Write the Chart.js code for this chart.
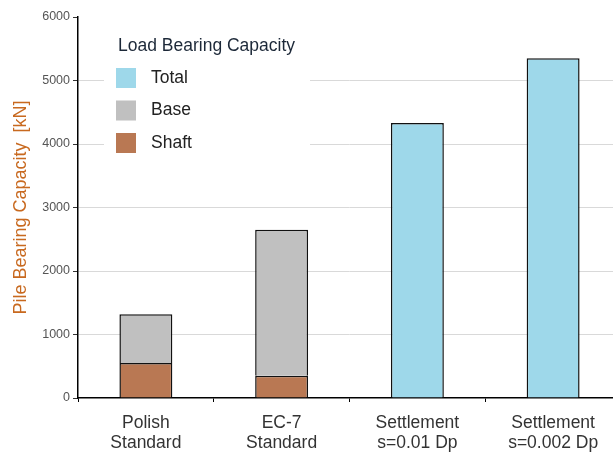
<!DOCTYPE html>
<html>
<head>
<meta charset="utf-8">
<script src="https://cdn.jsdelivr.net/npm/chart.js@4"></script>
<style>
  html, body { margin: 0; padding: 0; background: #fff; overflow: hidden; }
  #wrap { width: 621px; height: 453px; }
</style>
</head>
<body>
<div id="wrap"><canvas id="grafico"></canvas></div>
<script>
// dados
const categorias = [["Polish", "Standard"], ["EC-7", "Standard"], ["Settlement", "s=0.01 Dp"], ["Settlement", "s=0.002 Dp"]];
const shaft = [550, 350, null, null];
const base = [770, 2300, null, null];
const total = [null, null, 4330, 5350];
const legendaTitulo = "Load Bearing Capacity";

const fonte = "'Liberation Sans', Arial, sans-serif";

// legenda desenhada dentro da área do gráfico
const legendaInterna = {
  id: "legendaInterna",
  afterDatasetsDraw(chart) {
    const ctx = chart.ctx;
    const itens = [2, 1, 0].map(i => chart.data.datasets[i]);
    ctx.save();
    ctx.fillStyle = "#fff";
    ctx.fillRect(104, 28, 206, 132);
    ctx.font = "17.5px " + fonte;
    ctx.textBaseline = "middle";
    ctx.fillStyle = "#1c2838";
    ctx.fillText(legendaTitulo, 118, 46);
    itens.forEach((ds, i) => {
      const y = 78 + i * 32.5;
      ctx.fillStyle = ds.backgroundColor;
      ctx.fillRect(116, y - 10, 20, 20);
      ctx.fillStyle = "#222";
      ctx.fillText(ds.label, 151, y);
    });
    ctx.restore();
  }
};

new Chart(document.getElementById("grafico").getContext("2d"), {
  type: "bar",
  data: {
    labels: categorias,
    datasets: [
      { label: "Shaft", data: shaft, backgroundColor: "#b97853", borderColor: "#111", borderWidth: 1.5 },
      { label: "Base", data: base, backgroundColor: "#c0c0c0", borderColor: "#111", borderWidth: 1.5 },
      { label: "Total", data: total, backgroundColor: "#9ed8ea", borderColor: "#111", borderWidth: 1.5 }
    ]
  },
  options: {
    responsive: true,
    maintainAspectRatio: false,
    animation: false,
    layout: { padding: { top: 17, right: 0, left: 0, bottom: 0 } },
    datasets: { bar: { categoryPercentage: 1, barPercentage: 0.39 } },
    plugins: { legend: { display: false }, tooltip: { enabled: false } },
    scales: {
      x: {
        stacked: true,
        afterFit(s) { s.height = 55; },
        border: { color: "#000", width: 1.5 },
        grid: { color: "transparent", tickColor: "#000", tickLength: 4, offset: true },
        ticks: { color: "#333", padding: 11, font: { family: fonte, size: 17.5, lineHeight: 1.15 } }
      },
      y: {
        stacked: true,
        min: 0,
        max: 6000,
        afterFit(s) { s.width = 78; },
        border: { color: "#000", width: 1.5 },
        grid: {
          color: c => (c.tick && (c.tick.value === 0 || c.tick.value === 6000)) ? "transparent" : "#d9d9d9",
          tickColor: "#333",
          tickLength: 5
        },
        ticks: {
          stepSize: 1000,
          color: "#555",
          padding: 3,
          font: { family: fonte, size: 12.5 },
          callback: v => String(v)
        },
        title: {
          display: true,
          text: "Pile Bearing Capacity  [kN]",
          color: "#c8691f",
          padding: { top: 10, bottom: 4 },
          font: { family: fonte, size: 18 }
        }
      }
    }
  },
  plugins: [legendaInterna]
});
</script>
</body>
</html>
